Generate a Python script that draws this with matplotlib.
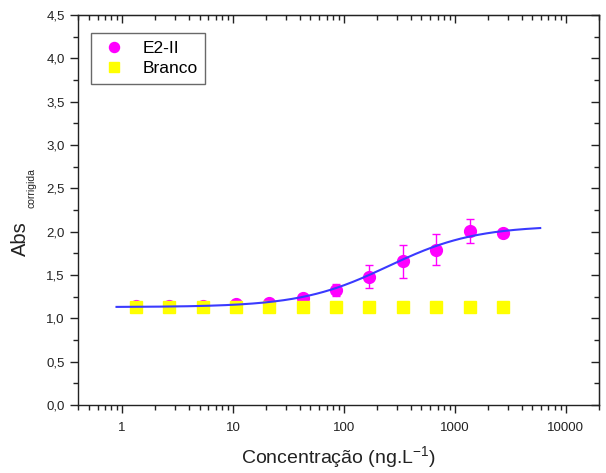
import matplotlib
matplotlib.use("Agg")
import matplotlib.pyplot as plt
import numpy as np
from matplotlib.ticker import FixedLocator, FuncFormatter, LogLocator, NullFormatter

plt.rcParams['font.family'] = ['Liberation Sans', 'DejaVu Sans']

# concentrations (ng/L), doubling dilution series
conc = [1.33, 2.66, 5.31, 10.6, 21.3, 42.5, 85, 170, 340, 680, 1360, 2720]
# E2-II corrected absorbance and standard deviation
e2_abs = [1.14, 1.14, 1.14, 1.16, 1.18, 1.24, 1.33, 1.48, 1.66, 1.79, 2.01, 1.98]
e2_err = [0.02, 0.02, 0.02, 0.02, 0.02, 0.03, 0.07, 0.13, 0.19, 0.18, 0.135, 0.02]
# blank
branco_abs = [1.13] * 12

# logistic fit parameters (A1, A2, x0, p) and fitted range
fit_A1, fit_A2, fit_x0, fit_p = 1.13, 2.07, 250.0, 1.1
fit_range = (0.89, 5900)

fig = plt.figure(figsize=(6.06, 4.73), dpi=100)
ax = fig.add_axes([78/606, 1 - 405/473, (599 - 78)/606, (405 - 15)/473])

ax.errorbar(conc, e2_abs, yerr=e2_err, fmt='none', ecolor='#ff00ff',
            elinewidth=1.0, capsize=3.2, capthick=1.0, zorder=3)
h_e2, = ax.plot(conc, e2_abs, 'o', color='#ff00ff', ms=8.5, label='E2-II', zorder=3)
h_br, = ax.plot(conc, branco_abs, 's', color='#ffff00', ms=8.5, label='Branco', zorder=4)

xf = np.logspace(np.log10(fit_range[0]), np.log10(fit_range[1]), 300)
yf = fit_A2 + (fit_A1 - fit_A2) / (1 + (xf / fit_x0) ** fit_p)
ax.plot(xf, yf, '-', color='#3a3aff', lw=1.5, zorder=5)

ax.set_xscale('log')
ax.set_xlim(0.4, 20000)
ax.set_ylim(0, 4.5)

ax.xaxis.set_major_locator(FixedLocator([1, 10, 100, 1000, 10000]))
ax.xaxis.set_major_formatter(FuncFormatter(lambda v, p: '%d' % v))
ax.xaxis.set_minor_locator(LogLocator(base=10, subs=np.arange(2, 10), numticks=20))
ax.xaxis.set_minor_formatter(NullFormatter())

ax.set_yticks(np.arange(0, 4.51, 0.5))
ax.set_yticks(np.arange(0.25, 4.5, 0.5), minor=True)
ax.yaxis.set_major_formatter(FuncFormatter(lambda v, p: ('%.1f' % v).replace('.', ',')))

for s in ax.spines.values():
    s.set_linewidth(1.0)
    s.set_color('#222222')

ax.tick_params(which='both', direction='out', top=False, right=False,
               labelsize=9.5, colors='#222222')
ax.tick_params(which='major', length=6, width=1.0)
ax.tick_params(which='minor', length=3.5, width=1.0)
ax.tick_params(axis='x', which='major', pad=6)

# inward ticks on the top and right edges
tx = ax.secondary_xaxis('top')
tx.set_xscale('log')
tx.xaxis.set_major_locator(FixedLocator([1, 10, 100, 1000, 10000]))
tx.xaxis.set_minor_locator(LogLocator(base=10, subs=np.arange(2, 10), numticks=20))
tx.tick_params(which='both', direction='in', labeltop=False, colors='#222222')
tx.tick_params(which='major', length=6, width=1.0)
tx.tick_params(which='minor', length=3.5, width=1.0)
tx.xaxis.set_major_formatter(NullFormatter())
tx.xaxis.set_minor_formatter(NullFormatter())

ty = ax.secondary_yaxis('right')
ty.set_yticks(np.arange(0, 4.51, 0.5))
ty.set_yticks(np.arange(0.25, 4.5, 0.5), minor=True)
ty.tick_params(which='both', direction='in', labelright=False, colors='#222222')
ty.tick_params(which='major', length=6, width=1.0)
ty.tick_params(which='minor', length=3.5, width=1.0)

ax.set_xlabel('Concentração (ng.L$^{\\mathregular{-1}}$)', fontsize=14, color='#222222', labelpad=8)

fig.text(20.5/606, 1 - 238.5/473, 'Abs', rotation=90, ha='center', va='center',
         fontsize=14.5, color='#222222')
fig.text(31.5/606, 1 - 188/473, 'corrigida', rotation=90, ha='center', va='center',
         fontsize=7.5, color='#222222')

leg = ax.legend(handles=[h_e2, h_br], loc='upper left',
                bbox_to_anchor=((91 - 78)/521, (405 - 33)/390), borderaxespad=0,
                fontsize=12.5, frameon=True, fancybox=False, edgecolor='#444444',
                borderpad=0.45, handletextpad=0.7, labelspacing=0.3, markerscale=0.85,
                handlelength=1.8)
leg.get_frame().set_linewidth(1.0)

fig.savefig('out.png', dpi=100)
